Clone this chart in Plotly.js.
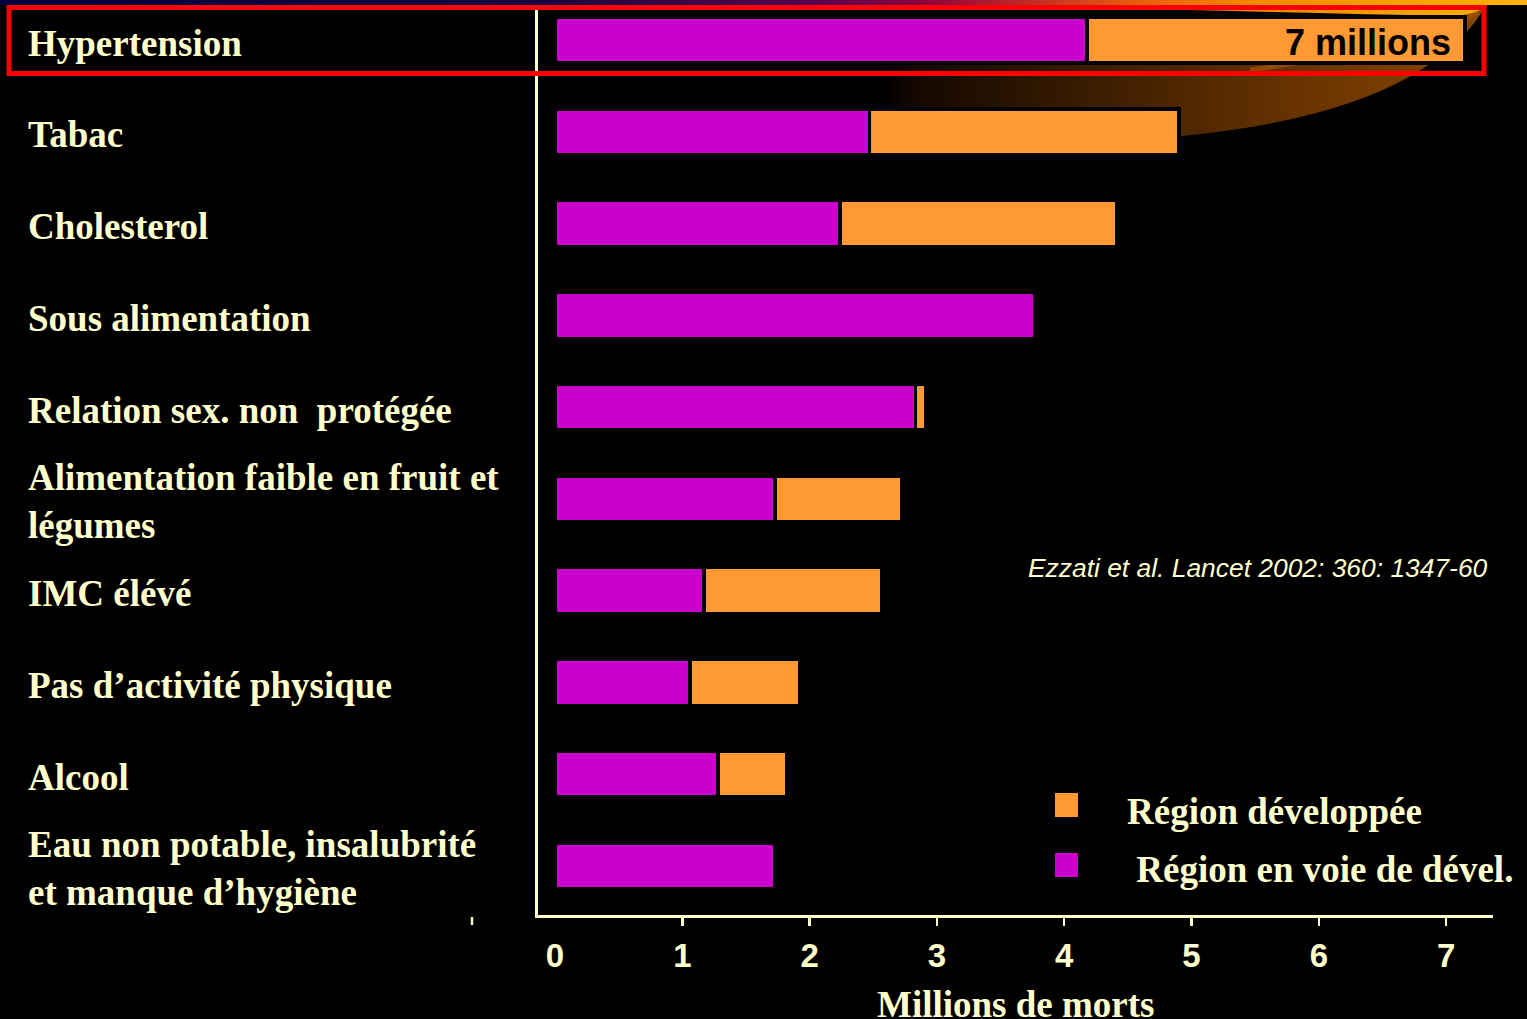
<!DOCTYPE html>
<html>
<head>
<meta charset="utf-8">
<script src="https://cdn.plot.ly/plotly-3.0.1.min.js"></script>
<style>html,body{margin:0;padding:0;background:#000;}#chart{width:1527px;height:1019px;}</style>
</head>
<body>
<div id="chart"></div>
<script>
// ---- data ----
const categories = [
  "Hypertension",
  "Tabac",
  "Cholesterol",
  "Sous alimentation",
  "Relation sex. non\u00a0 protégée",
  "Alimentation faible en fruit et<br>légumes",
  "IMC élévé",
  "Pas d’activité physique",
  "Alcool",
  "Eau non potable, insalubrité<br>et manque d’hygiène"
];
// Millions of deaths, developing regions (purple)
const developing = [4.18, 2.47, 2.24, 3.77, 2.83, 1.73, 1.17, 1.06, 1.28, 1.73];
// Millions of deaths, developed regions (orange, stacked)
const developed  = [2.97, 2.43, 2.17, 0.00, 0.08, 0.99, 1.40, 0.86, 0.54, 0.00];
const xTickValues = [0, 1, 2, 3, 4, 5, 6, 7];
const xTickMarks  = [1, 2, 3, 4, 5, 6, 7];
const legendNames = ["Région développée", " Région en voie de dével."];
const highlightText = "7 millions";
const sourceText = "Ezzati et al. Lancet 2002: 360: 1347-60";
const axisTitle = "Millions de morts";

// ---- styles ----
const PURPLE = "#CC00CC", ORANGE = "#FF9933", CREAM = "#FFFFCC";
const SERIF = "Liberation Serif, Times New Roman, serif";
const SANS = "Liberation Sans, Arial, sans-serif";
const W = 1527, H = 1019, L = 538, R = 34, T = 10, B = 104;
const PW = W - L - R, PH = H - T - B;
const PX = x => (x - L) / PW;
const PY = y => (H - B - y) / PH;

// background decoration (gradient band + swoosh)
const svg = `<svg xmlns='http://www.w3.org/2000/svg' width='${W}' height='${H}' viewBox='0 0 ${W} ${H}'>
<defs>
<linearGradient id='tb' x1='0' x2='1' y1='0' y2='0'>
<stop offset='0' stop-color='#00003c'/><stop offset='0.35' stop-color='#180040'/>
<stop offset='0.52' stop-color='#500050'/><stop offset='0.6' stop-color='#8a0040'/>
<stop offset='0.67' stop-color='#c02828'/><stop offset='0.74' stop-color='#e85a10'/>
<stop offset='0.82' stop-color='#f58a00'/><stop offset='0.95' stop-color='#ffaa00'/>
<stop offset='1' stop-color='#ffb000'/></linearGradient>
<linearGradient id='sw' gradientUnits='userSpaceOnUse' x1='885' y1='0' x2='1490' y2='0'>
<stop offset='0' stop-color='#000000'/><stop offset='0.05' stop-color='#140800'/>
<stop offset='0.35' stop-color='#3c1d00'/><stop offset='0.7' stop-color='#6a3400'/>
<stop offset='1' stop-color='#8a4800'/></linearGradient>
<linearGradient id='or' gradientUnits='userSpaceOnUse' x1='1050' y1='0' x2='1490' y2='0'>
<stop offset='0' stop-color='#d85000'/><stop offset='0.5' stop-color='#f08a00'/>
<stop offset='1' stop-color='#ffae00'/></linearGradient>
</defs>
<path d='M885,62 Q1250,70 1489,0 Q1430,112 1182,136 Q1020,150 885,150 Z' fill='url(#sw)'/>
<path d='M1250,70 Q1420,45 1478,12' stroke='#a35400' stroke-width='5' fill='none' opacity='0.7'/>
<path d='M1000,0 L1492,0 Q1482,14 1455,16 Q1250,12 1000,5 Z' fill='url(#or)'/>
<rect x='0' y='0' width='${W}' height='5' fill='url(#tb)'/>
</svg>`;
const bgSource = "data:image/svg+xml;charset=utf-8," + encodeURIComponent(svg);

const traces = [
  {
    type: "bar", orientation: "h", name: legendNames[1],
    y: categories, x: developing,
    marker: { color: PURPLE, line: { color: "#000", width: 3.5 } },
    width: 0.5, showlegend: false, hoverinfo: "x+y"
  },
  {
    type: "bar", orientation: "h", name: legendNames[0],
    y: categories, x: developed,
    marker: { color: ORANGE, line: { color: "#000", width: 3.5 } },
    width: 0.5, showlegend: false, hoverinfo: "x+y"
  },
  { type: "scatter", x: [], y: [], xaxis: "x2", yaxis: "y", showlegend: false, hoverinfo: "skip" }
];

const xRange = [(L - 555) / 127.3, (L + PW - 555) / 127.3];

const annotations = [];
categories.forEach(c => annotations.push({
  xref: "paper", yref: "y", x: PX(26), y: c, xanchor: "left", yanchor: "middle",
  yshift: -3, align: "left", showarrow: false, text: c,
  font: { family: SERIF, size: 37, weight: "bold", color: CREAM }
}));
annotations.push({
  xref: "x", yref: "y", x: developing[0] + developed[0], y: categories[0],
  xanchor: "right", yanchor: "middle", xshift: -12, yshift: -2, showarrow: false,
  text: highlightText, font: { family: SANS, size: 36, weight: "bold", color: "#000" }
});
annotations.push({
  xref: "paper", yref: "paper", x: PX(1026), y: PY(568), xanchor: "left", yanchor: "middle",
  showarrow: false, text: sourceText,
  font: { family: SANS, size: 26.4, style: "italic", color: CREAM }
});
annotations.push({
  xref: "paper", yref: "paper", x: PX(1125), y: PY(811), xanchor: "left", yanchor: "middle",
  showarrow: false, text: legendNames[0],
  font: { family: SERIF, size: 37, weight: "bold", color: CREAM }
});
annotations.push({
  xref: "paper", yref: "paper", x: PX(1125), y: PY(869), xanchor: "left", yanchor: "middle",
  showarrow: false, text: "\u00a0" + legendNames[1].trim(),
  font: { family: SERIF, size: 37, weight: "bold", color: CREAM }
});
// x-axis title
annotations.push({
  xref: "paper", yref: "paper", x: 0.5, y: PY(1004), xanchor: "center", yanchor: "middle",
  showarrow: false, text: axisTitle,
  font: { family: SERIF, size: 37, weight: "bold", color: CREAM }
});

const shapes = [
  { type: "rect", xref: "paper", yref: "paper", x0: PX(9), x1: PX(1484), y0: PY(7.5), y1: PY(73.5),
    line: { color: "#FF0000", width: 5 }, fillcolor: "rgba(0,0,0,0)", layer: "above" },
  { type: "rect", xref: "paper", yref: "paper", x0: PX(1055), x1: PX(1078), y0: PY(793), y1: PY(817),
    line: { width: 0 }, fillcolor: ORANGE },
  { type: "rect", xref: "paper", yref: "paper", x0: PX(1055), x1: PX(1078), y0: PY(853), y1: PY(877),
    line: { width: 0 }, fillcolor: PURPLE },
  { type: "line", xref: "paper", yref: "paper", x0: PX(472), x1: PX(472), y0: PY(917), y1: PY(925),
    line: { color: CREAM, width: 2.5 } }
];

const layout = {
  width: W, height: H,
  margin: { l: L, r: R, t: T, b: B, pad: 0 },
  paper_bgcolor: "#000", plot_bgcolor: "rgba(0,0,0,0)",
  barmode: "stack", showlegend: false,
  xaxis: {
    range: xRange, tickvals: xTickValues, ticktext: xTickValues.map(String),
    ticks: "", showgrid: false, zeroline: false,
    showline: true, linecolor: CREAM, linewidth: 3,
    tickfont: { family: SANS, size: 33, weight: "bold", color: CREAM },
    ticklabelstandoff: 9, automargin: false
  },
  xaxis2: {
    overlaying: "x", anchor: "y", side: "bottom", range: xRange,
    tickvals: xTickMarks, ticks: "outside", ticklen: 10, tickwidth: 2.5, tickcolor: CREAM,
    showticklabels: false, showgrid: false, zeroline: false, showline: false
  },
  yaxis: {
    type: "category", categoryorder: "array", categoryarray: categories,
    range: [9.534, -0.327], showticklabels: false, ticks: "",
    showgrid: false, zeroline: false, showline: true, linecolor: CREAM, linewidth: 3,
    automargin: false
  },
  images: [{
    source: bgSource, xref: "paper", yref: "paper", x: PX(0), y: PY(0),
    sizex: W / PW, sizey: H / PH, xanchor: "left", yanchor: "top",
    sizing: "stretch", layer: "below"
  }],
  annotations: annotations,
  shapes: shapes
};

Plotly.newPlot("chart", traces, layout, { displayModeBar: false, staticPlot: true });
</script>
</body>
</html>
